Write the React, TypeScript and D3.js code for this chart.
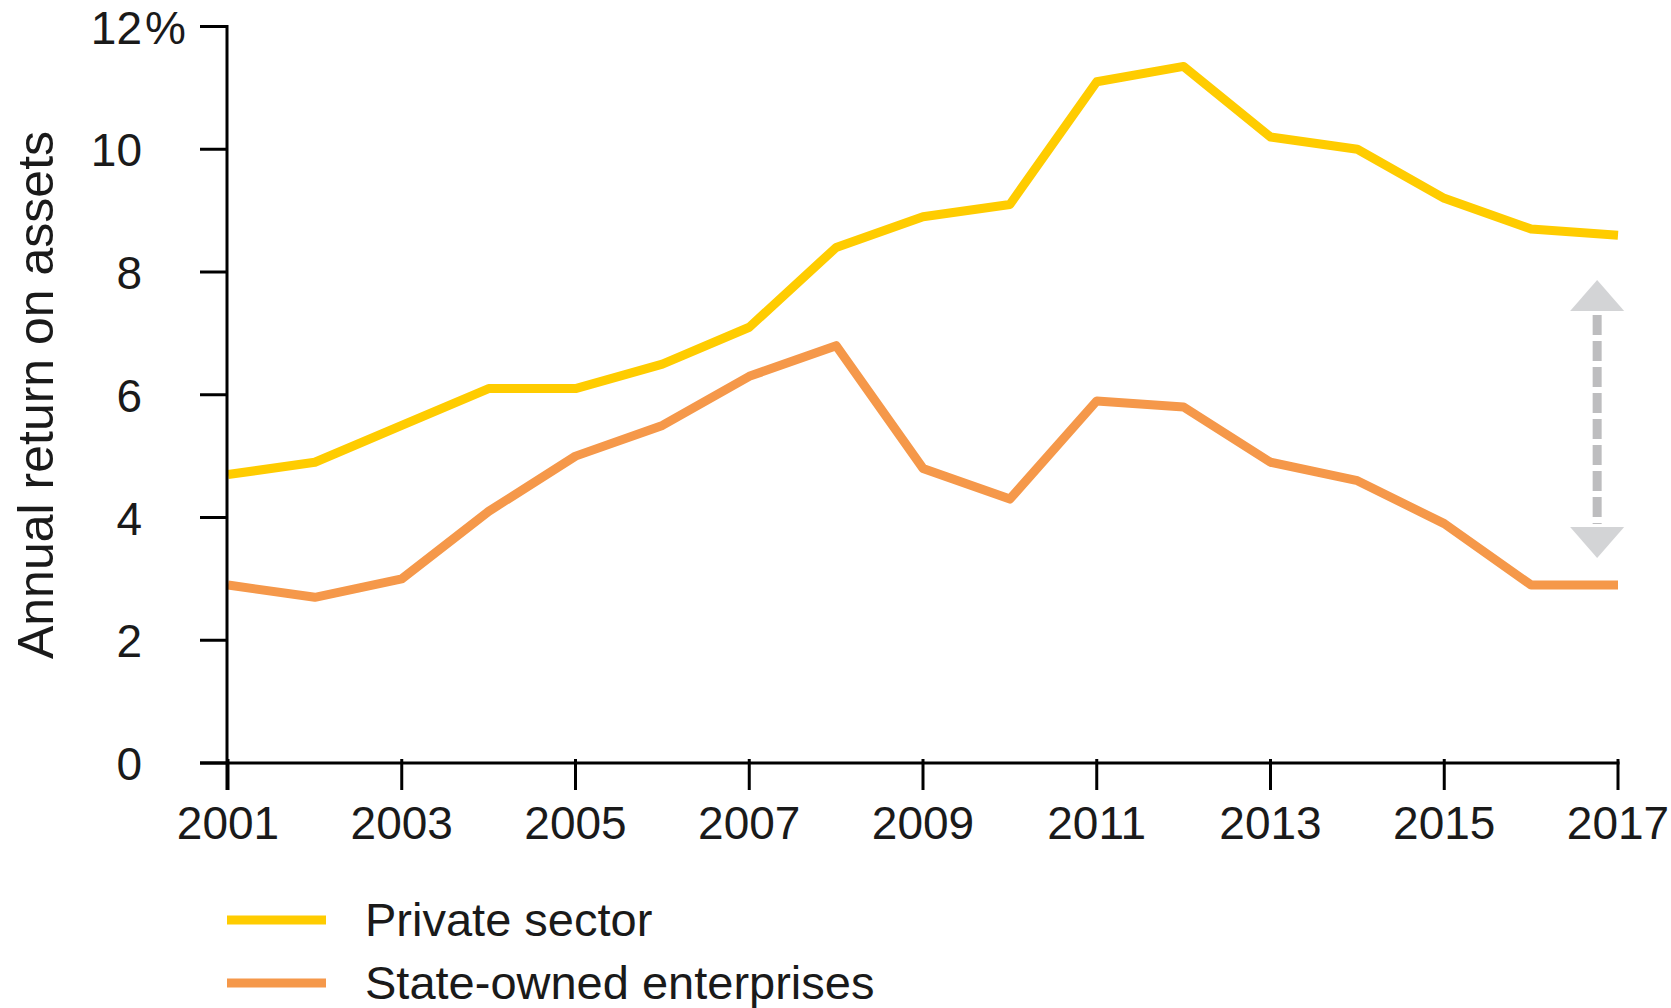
import React from "react";
import * as d3 from "d3";

const years = [2001, 2002, 2003, 2004, 2005, 2006, 2007, 2008, 2009, 2010, 2011, 2012, 2013, 2014, 2015, 2016, 2017];
const privateSector = [4.7, 4.9, 5.5, 6.1, 6.1, 6.5, 7.1, 8.4, 8.9, 9.1, 11.1, 11.35, 10.2, 10.0, 9.2, 8.7, 8.6];
const stateOwned = [2.9, 2.7, 3.0, 4.1, 5.0, 5.5, 6.3, 6.8, 4.8, 4.3, 5.9, 5.8, 4.9, 4.6, 3.9, 2.9, 2.9];
const xTicks = [2001, 2003, 2005, 2007, 2009, 2011, 2013, 2015, 2017];
const yTicks = [0, 2, 4, 6, 8, 10, 12];
const seriesNames = ["Private sector", "State-owned enterprises"];
const seriesColors = ["#FFCC00", "#F5984A"];
const gapArrow = { year: 2016.76, top: 7.87, bottom: 3.34 };

const W = 1671;
const H = 1008;
const FONT = "'Liberation Sans', Arial, sans-serif";

export default function App() {
  const x = d3.scaleLinear().domain([2001, 2017]).range([228, 1618]);
  const y = d3.scaleLinear().domain([0, 12]).range([763, 26.5]);
  const line = d3
    .line<number>()
    .x((_, i) => x(years[i]))
    .y((d) => y(d));
  const series = [privateSector, stateOwned];

  const ax = x(gapArrow.year);
  const yTop = y(gapArrow.top);
  const yBot = y(gapArrow.bottom);
  const headH = 31;
  const headW = 27;

  return (
    <svg
      width={W}
      height={H}
      style={{ position: "absolute", left: 0, top: 0, background: "#fff" }}
      fontFamily={FONT}
    >
      {/* series lines */}
      {series.map((s, i) => (
        <path
          key={i}
          d={line(s) || ""}
          fill="none"
          stroke={seriesColors[i]}
          strokeWidth={9}
          strokeLinejoin="round"
        />
      ))}

      {/* gap arrow */}
      <line
        x1={ax}
        x2={ax}
        y1={yTop + headH + 4}
        y2={yBot - headH - 3}
        stroke="#BDBDBF"
        strokeWidth={9}
        strokeDasharray="20 6"
      />
      <path
        d={`M${ax},${yTop} L${ax - headW},${yTop + headH} L${ax + headW},${yTop + headH} Z`}
        fill="#D3D4D6"
      />
      <path
        d={`M${ax},${yBot} L${ax - headW},${yBot - headH} L${ax + headW},${yBot - headH} Z`}
        fill="#D3D4D6"
      />

      {/* y axis */}
      <line x1={227} x2={227} y1={y(12) - 1.5} y2={790} stroke="#000" strokeWidth={3} />
      {yTicks.map((t) => (
        <g key={t}>
          <line x1={200} x2={227} y1={y(t)} y2={y(t)} stroke="#000" strokeWidth={3} />
          <text x={142} y={y(t) + 17} textAnchor="end" fontSize={46} fill="#1a1a1a">
            {t}
          </text>
          {t === 12 && (
            <text x={145} y={y(t) + 17} textAnchor="start" fontSize={46} fill="#1a1a1a">
              %
            </text>
          )}
        </g>
      ))}

      {/* x axis */}
      <line x1={200} x2={x(2017) + 1.5} y1={763} y2={763} stroke="#000" strokeWidth={3} />
      {xTicks.map((t) => (
        <g key={t}>
          <line x1={x(t)} x2={x(t)} y1={759} y2={790} stroke="#000" strokeWidth={3} />
          <text x={x(t)} y={839} textAnchor="middle" fontSize={46} fill="#1a1a1a">
            {t}
          </text>
        </g>
      ))}

      {/* y axis title */}
      <text
        transform={`translate(53,395) rotate(-90)`}
        textAnchor="middle"
        fontSize={50}
        fill="#1a1a1a"
      >
        Annual return on assets
      </text>

      {/* legend */}
      {seriesNames.map((n, i) => {
        const ly = 920 + i * 63;
        return (
          <g key={n}>
            <line x1={227} x2={326} y1={ly} y2={ly} stroke={seriesColors[i]} strokeWidth={9} />
            <text x={365} y={ly + 16} fontSize={47} fill="#1a1a1a">
              {n}
            </text>
          </g>
        );
      })}
    </svg>
  );
}
